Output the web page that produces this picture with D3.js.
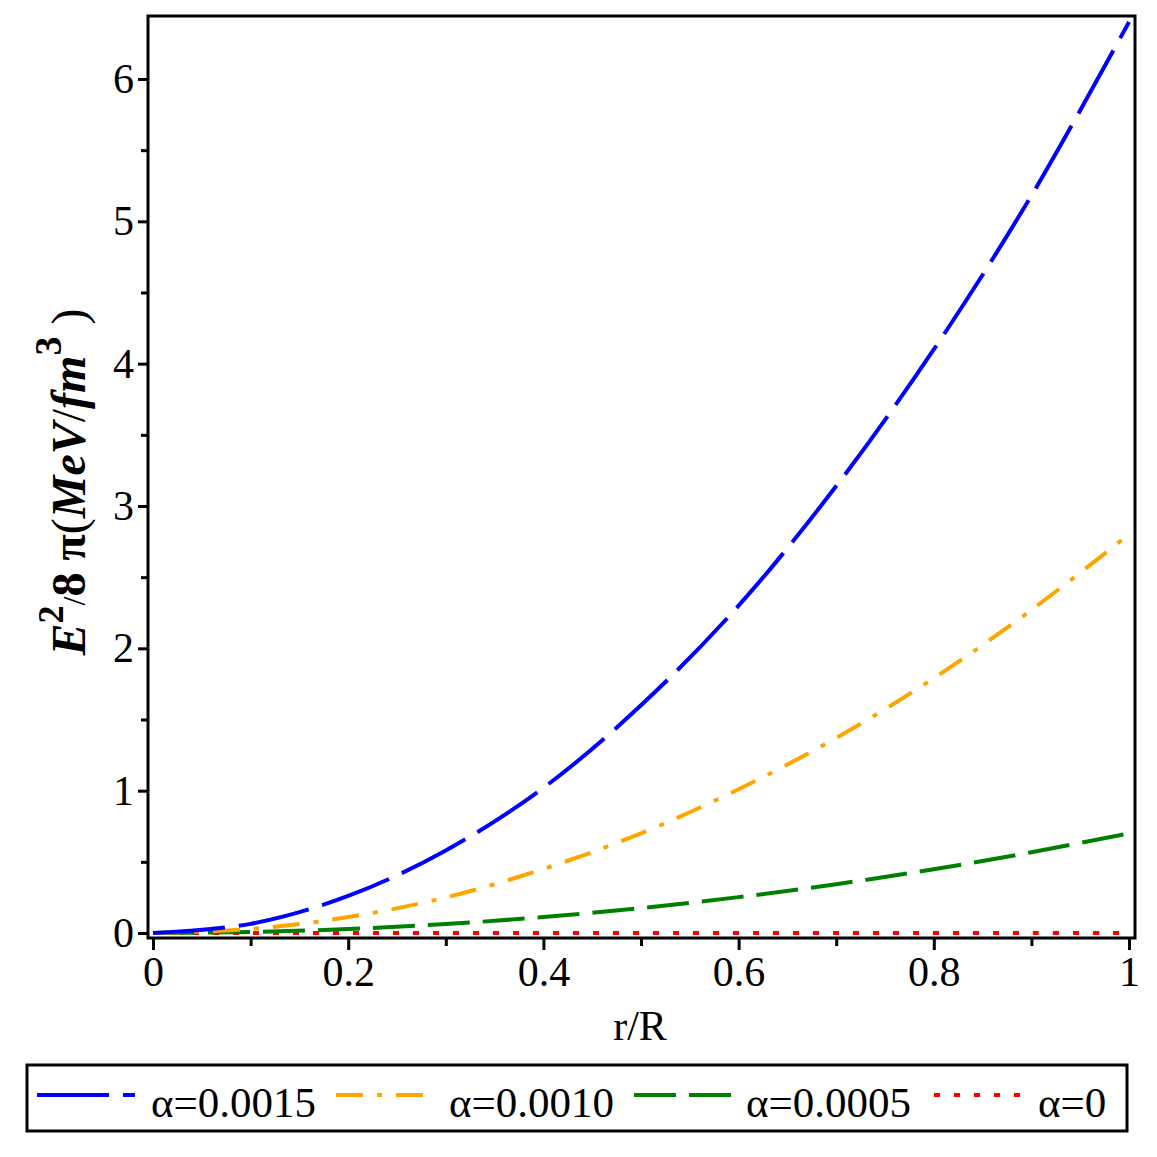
<!DOCTYPE html>
<html>
<head>
<meta charset="utf-8">
<script src="https://cdn.jsdelivr.net/npm/d3@7"></script>
<style>
  body { margin: 0; background: #fff; }
</style>
</head>
<body>
<div id="chart"></div>
<script>
// r/R sample points
const rValues = [0, 0.1, 0.2, 0.3, 0.4, 0.5, 0.6, 0.7, 0.8, 0.9, 1.0];
// E^2/8pi
const alpha0015 = [0, 0.064, 0.26, 0.58, 1.02, 1.6, 2.3, 3.14, 4.1, 5.18, 6.4];
const alpha0010 = [0, 0.028, 0.112, 0.25, 0.45, 0.7, 1.01, 1.37, 1.79, 2.27, 2.8];
const alpha0005 = [0, 0.007, 0.028, 0.063, 0.112, 0.175, 0.252, 0.343, 0.448, 0.567, 0.7];
const alpha0 = [0, 0, 0, 0, 0, 0, 0, 0, 0, 0, 0];

const seriesNames = ["α=0.0015", "α=0.0010", "α=0.0005", "α=0"];
const xTicks = [0, 0.2, 0.4, 0.6, 0.8, 1];
const yTicks = [0, 1, 2, 3, 4, 5, 6];

const series = [
  { name: seriesNames[0], values: alpha0015, color: "#0000ff", dash: "72,14" },
  { name: seriesNames[1], values: alpha0010, color: "#ffa500", dash: "27,14,5,14" },
  { name: seriesNames[2], values: alpha0005, color: "#008000", dash: "42,13" },
  { name: seriesNames[3], values: alpha0, color: "#ff0000", dash: "6,14" }
];

const FONT = "'Liberation Serif', 'Times New Roman', Times, serif";
const W = 1157, H = 1157;
const frame = { left: 148, right: 1135, top: 16, bottom: 938 };

const svg = d3.select("#chart").append("svg")
  .attr("width", W).attr("height", H)
  .attr("font-family", FONT);

const x = d3.scaleLinear().domain([0, 1]).range([153, 1129]);
const y = d3.scaleLinear().domain([0, 6]).range([933, 79]);

// curves
const line = d3.line()
  .x((d, i) => x(rValues[i]))
  .y(d => y(d))
  .curve(d3.curveCatmullRom);

svg.append("g").selectAll("path")
  .data(series.slice().reverse())
  .enter().append("path")
  .attr("d", d => line(d.values))
  .attr("fill", "none")
  .attr("stroke", d => d.color)
  .attr("stroke-width", 4)
  .attr("stroke-dasharray", d => d.dash);

// frame
svg.append("rect")
  .attr("x", frame.left).attr("y", frame.top)
  .attr("width", frame.right - frame.left)
  .attr("height", frame.bottom - frame.top)
  .attr("fill", "none").attr("stroke", "#000").attr("stroke-width", 3);

// x axis
const xAxis = d3.axisBottom(x).tickValues(xTicks).tickSize(12).tickPadding(6)
  .tickFormat(d => d === 0 || d === 1 ? d3.format("d")(d) : d3.format(".1f")(d));
const gx = svg.append("g").attr("transform", `translate(0,${frame.bottom})`).call(xAxis)
  .attr("font-family", FONT);
gx.select(".domain").remove();
gx.selectAll("line").attr("stroke-width", 3);
gx.selectAll("text").style("font-size", "42px").attr("fill", "#000");

const gxMinor = svg.append("g").attr("transform", `translate(0,${frame.bottom})`)
  .call(d3.axisBottom(x).tickValues([0.1, 0.3, 0.5, 0.7, 0.9]).tickSize(8).tickFormat(""));
gxMinor.select(".domain").remove();
gxMinor.selectAll("line").attr("stroke-width", 3);

// y axis
const yAxis = d3.axisLeft(y).tickValues(yTicks).tickSize(10).tickPadding(4).tickFormat(d3.format("d"));
const gy = svg.append("g").attr("transform", `translate(${frame.left},0)`).call(yAxis)
  .attr("font-family", FONT);
gy.select(".domain").remove();
gy.selectAll("line").attr("stroke-width", 3);
gy.selectAll("text").style("font-size", "42px").attr("fill", "#000");

const gyMinor = svg.append("g").attr("transform", `translate(${frame.left},0)`)
  .call(d3.axisLeft(y).tickValues([0.5, 1.5, 2.5, 3.5, 4.5, 5.5]).tickSize(7).tickFormat(""));
gyMinor.select(".domain").remove();
gyMinor.selectAll("line").attr("stroke-width", 3);

// x label
svg.append("text")
  .attr("x", 640).attr("y", 1040)
  .attr("text-anchor", "middle")
  .style("font-size", "42px")
  .text("r/R");

// y label
const yl = svg.append("text")
  .attr("transform", "translate(85,482) rotate(-90)")
  .attr("text-anchor", "middle")
  .style("font-size", "48px");
yl.append("tspan").attr("font-weight", "bold").attr("font-style", "italic").text("E");
yl.append("tspan").attr("font-weight", "bold").attr("dy", -22).style("font-size", "36px").text("2");
yl.append("tspan").attr("dy", 22).style("font-size", "32px").text("/");
yl.append("tspan").attr("font-weight", "bold").text("8 π");
yl.append("tspan").text("(");
yl.append("tspan").attr("font-weight", "bold").attr("font-style", "italic").text("MeV");
yl.append("tspan").text("/");
yl.append("tspan").attr("font-weight", "bold").attr("font-style", "italic").text("fm");
yl.append("tspan").attr("font-weight", "bold").attr("dy", -24).style("font-size", "38px").text("3");
yl.append("tspan").attr("dy", 24).text(" )");

// legend
const legend = svg.append("g");
legend.append("rect")
  .attr("x", 27).attr("y", 1065).attr("width", 1100).attr("height", 66)
  .attr("fill", "none").attr("stroke", "#000").attr("stroke-width", 3);

const legendPos = [
  { x0: 37, x1: 135, tx: 151 },
  { x0: 336, x1: 429, tx: 449 },
  { x0: 634, x1: 732, tx: 746 },
  { x0: 934, x1: 1021, tx: 1038 }
];

const items = legend.selectAll(".item").data(series).enter().append("g");
items.append("line")
  .attr("x1", (d, i) => legendPos[i].x0).attr("x2", (d, i) => legendPos[i].x1)
  .attr("y1", 1095).attr("y2", 1095)
  .attr("stroke", d => d.color).attr("stroke-width", 4)
  .attr("stroke-dasharray", d => d.dash);
items.append("text")
  .attr("x", (d, i) => legendPos[i].tx).attr("y", 1117)
  .style("font-size", "43px")
  .text(d => d.name);
</script>
</body>
</html>
